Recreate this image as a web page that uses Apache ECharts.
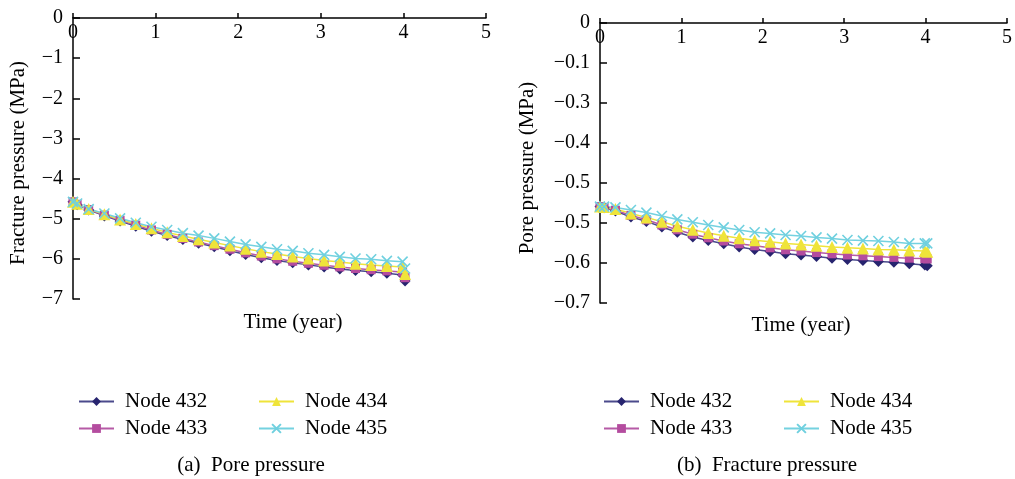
<!DOCTYPE html>
<html>
<head>
<meta charset="utf-8">
<script src="https://cdn.jsdelivr.net/npm/echarts@6/dist/echarts.min.js"></script>
<style>html,body{margin:0;padding:0;background:#fff}#c{width:1015px;height:479px}</style>
</head>
<body>
<div id="c"></div>
<script>
// ---- data ----
const times = [0, 0.05, 0.19, 0.38, 0.57, 0.76, 0.95, 1.14, 1.33, 1.52, 1.71, 1.90, 2.09, 2.28, 2.47, 2.66, 2.85, 3.04, 3.23, 3.42, 3.61, 3.80, 3.99, 4.02];
const seriesNames = ['Node 432', 'Node 433', 'Node 434', 'Node 435'];

// (a) left panel (axis title: Fracture pressure)
const leftNode432 = [-4.58, -4.65, -4.78, -4.93, -5.06, -5.19, -5.31, -5.42, -5.52, -5.61, -5.70, -5.80, -5.89, -5.97, -6.04, -6.10, -6.15, -6.20, -6.25, -6.29, -6.32, -6.36, -6.40, -6.55];
const leftNode433 = [-4.58, -4.64, -4.77, -4.91, -5.04, -5.16, -5.28, -5.39, -5.49, -5.58, -5.67, -5.76, -5.85, -5.93, -6.00, -6.06, -6.11, -6.16, -6.20, -6.24, -6.27, -6.30, -6.33, -6.47];
const leftNode434 = [-4.58, -4.63, -4.76, -4.89, -5.02, -5.13, -5.24, -5.34, -5.43, -5.51, -5.59, -5.67, -5.75, -5.82, -5.88, -5.94, -5.99, -6.04, -6.08, -6.12, -6.15, -6.18, -6.20, -6.38];
const leftNode435 = [-4.58, -4.62, -4.76, -4.87, -4.99, -5.10, -5.20, -5.28, -5.36, -5.42, -5.49, -5.57, -5.64, -5.70, -5.76, -5.80, -5.86, -5.90, -5.95, -5.99, -6.01, -6.05, -6.07, -6.24];

// (b) right panel (axis title: Pore pressure)
const rightNode432 = [-0.459, -0.462, -0.470, -0.485, -0.496, -0.510, -0.523, -0.535, -0.544, -0.552, -0.560, -0.566, -0.571, -0.577, -0.580, -0.584, -0.588, -0.591, -0.594, -0.596, -0.598, -0.602, -0.605, -0.607];
const rightNode433 = [-0.459, -0.461, -0.468, -0.481, -0.492, -0.505, -0.517, -0.528, -0.537, -0.545, -0.552, -0.557, -0.562, -0.567, -0.570, -0.574, -0.577, -0.580, -0.582, -0.584, -0.586, -0.588, -0.589, -0.590];
const rightNode434 = [-0.459, -0.460, -0.465, -0.476, -0.486, -0.497, -0.508, -0.517, -0.525, -0.532, -0.538, -0.543, -0.547, -0.551, -0.554, -0.557, -0.560, -0.562, -0.564, -0.566, -0.567, -0.569, -0.570, -0.572];
const rightNode435 = [-0.459, -0.459, -0.461, -0.4675, -0.474, -0.4825, -0.491, -0.498, -0.505, -0.511, -0.5175, -0.523, -0.526, -0.530, -0.5325, -0.536, -0.539, -0.5425, -0.544, -0.545, -0.5475, -0.551, -0.551, -0.551];

const xTickLabels = ['0', '1', '2', '3', '4', '5'];
const leftYTickLabels = ['0', '−1', '−2', '−3', '−4', '−5', '−6', '−7'];
const rightYTickLabels = ['0', '−0.1', '−0.3', '−0.4', '−0.5', '−0.5', '−0.6', '−0.7'];

const texts = {
  leftY: 'Fracture pressure (MPa)',
  rightY: 'Pore pressure (MPa)',
  x: 'Time (year)',
  capA: '(a)  Pore pressure',
  capB: '(b)  Fracture pressure'
};

// ---- styles ----
const FONT = 'Liberation Serif';
const FS = 21;
const TFS = 20;
const styles = [
  {color: '#27246f', line: '#4b4a8c', symbol: 'diamond', size: 11},
  {color: '#b44c9f', line: '#b65aa6', symbol: 'rect', size: 9},
  {color: '#efe43a', line: '#efe43a', symbol: 'triangle', size: 12},
  {color: '#6fd0df', line: '#74d2e0', symbol: 'path://M0,0L10,10M10,0L0,10', size: 10}
];

function mkSeries(name, vals, idx, st) {
  return {
    name: name, type: 'line', xAxisIndex: idx, yAxisIndex: idx,
    data: times.map((t, i) => [t, vals[i]]),
    symbol: st.symbol, symbolSize: st.size, showSymbol: true,
    lineStyle: {color: st.line, width: 1.5},
    itemStyle: {color: st.color, borderColor: st.color, borderWidth: st.symbol.startsWith('path') ? 1.6 : 0},
    animation: false, z: 3
  };
}

const leftData = [leftNode432, leftNode433, leftNode434, leftNode435];
const rightData = [rightNode432, rightNode433, rightNode434, rightNode435];
const series = [];
seriesNames.forEach((n, i) => series.push(mkSeries(n, leftData[i], 0, styles[i])));
seriesNames.forEach((n, i) => series.push(mkSeries(n, rightData[i], 1, styles[i])));

function xAxis(gi) {
  return {
    gridIndex: gi, type: 'value', position: 'top', min: 0, max: 5, interval: 1,
    axisLine: {show: true, onZero: false, lineStyle: {color: '#000', width: 1.5}},
    axisTick: {show: true, inside: false, length: 5, lineStyle: {color: '#000', width: 1.5}},
    axisLabel: {inside: true, margin: 5, color: '#000', fontFamily: FONT, fontSize: TFS,
      formatter: v => xTickLabels[Math.round(v)]},
    splitLine: {show: false}
  };
}
function yAxis(gi, min, interval, labels) {
  return {
    gridIndex: gi, type: 'value', min: min, max: 0, interval: interval,
    axisLine: {show: true, onZero: false, lineStyle: {color: '#000', width: 1.5}},
    axisTick: {show: true, inside: true, length: 7, lineStyle: {color: '#000', width: 1.5}},
    axisLabel: {margin: 10, color: '#000', fontFamily: FONT, fontSize: TFS,
      formatter: v => labels[Math.round(-v / interval)]},
    splitLine: {show: false}
  };
}

const legendBase = {
  orient: 'vertical', itemWidth: 35, itemHeight: 11, itemGap: 6,
  textStyle: {fontFamily: FONT, fontSize: FS, color: '#000', padding: [0, 0, 0, 6]},
  selectedMode: false
};

const txt = (x, y, s, extra) => Object.assign({type: 'text', x: x, y: y,
  style: {text: s, fill: '#000', font: FS + 'px "' + FONT + '"', textAlign: 'center', textVerticalAlign: 'middle'}}, extra || {});

const option = {
  backgroundColor: '#fff',
  animation: false,
  grid: [
    {left: 73, top: 18, width: 413, height: 281},
    {left: 600, top: 23, width: 412, height: 280}
  ],
  xAxis: [xAxis(0), xAxis(1)],
  yAxis: [yAxis(0, -7, 1, leftYTickLabels), yAxis(1, -0.7, 0.1, rightYTickLabels)],
  legend: [
    Object.assign({}, legendBase, {left: 73, top: 386, data: ['Node 432', 'Node 433']}),
    Object.assign({}, legendBase, {left: 253, top: 386, data: ['Node 434', 'Node 435']}),
    Object.assign({}, legendBase, {left: 598, top: 386, data: ['Node 432', 'Node 433']}),
    Object.assign({}, legendBase, {left: 778, top: 386, data: ['Node 434', 'Node 435']})
  ],
  graphic: [
    txt(18, 163, texts.leftY, {rotation: Math.PI / 2}),
    txt(527, 168, texts.rightY, {rotation: Math.PI / 2}),
    txt(293, 322, texts.x),
    txt(801, 325, texts.x),
    txt(251, 465, texts.capA),
    txt(767, 465, texts.capB)
  ],
  series: series
};

echarts.init(document.getElementById('c'), null, {renderer: 'canvas'}).setOption(option);
</script>
</body>
</html>
